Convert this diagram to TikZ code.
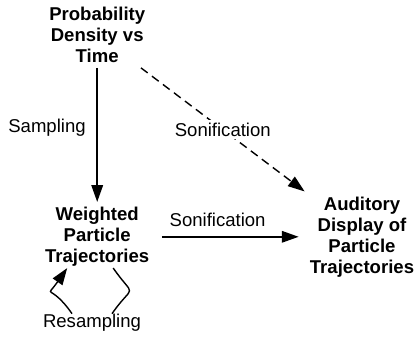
\documentclass[tikz,border=0pt]{standalone}
\usepackage{fontspec}
\setmainfont{Liberation Sans}
\usetikzlibrary{arrows.meta}

\tikzset{box/.style={align=center, inner sep=0.125cm, font=\bfseries\fontsize{13.2}{14.9}\selectfont}}
\tikzset{lbl/.style={inner sep=2pt, font=\fontsize{13.2}{14.9}\selectfont}}
\tikzset{link/.style={line width=1pt, -{Triangle[length=0.42cm, width=0.29cm]}}}

\begin{document}
\begin{tikzpicture}
			\useasboundingbox (0,0) rectangle (10.4,8.4);
			% Stages of the pipeline
			\node[box] (pdt) at (2.43,7.53) {Probability\\Density vs\\Time};
			\node[box] (wpt) at (2.43,2.48) {Weighted\\Particle\\Trajectories};
			\node[box] (adp) at (9.05,2.48) {Auditory\\Display of\\Particle\\Trajectories};
			\node[lbl] (rsp) at (2.3,0.325) {Resampling};
			
			% Edges between stages
			\draw[link] (pdt) -- node[lbl, left=0.2cm, pos=0.445] {Sampling} (wpt);
			\draw[link, dash pattern=on 6pt off 3.8pt] (pdt) -- node[lbl, fill=white, midway] {Sonification} (adp.north west);
			\draw[link, shorten <=0.18cm, shorten >=0.15cm] (wpt) -- node[lbl, above=5pt, pos=0.42] {Sonification} (adp);
			
			% Resampling loop
			\draw[line width=1pt] ([xshift=0.4cm, yshift=0.09cm]wpt.south) to[out=-55, in=55, looseness=2.2] ([xshift=0.5cm, yshift=-0.06cm]rsp.north);
			\draw[link] ([xshift=-0.5cm, yshift=-0.06cm]rsp.north) to[out=125, in=-125, looseness=2.2] ([xshift=-0.75cm, yshift=0.09cm]wpt.south);
		\end{tikzpicture}
\end{document}
